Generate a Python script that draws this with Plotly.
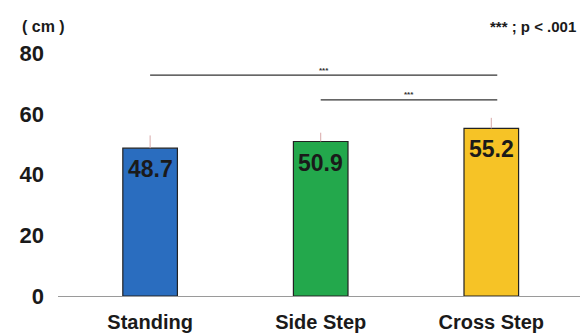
import plotly.graph_objects as go

categories = ["Standing", "Side Step", "Cross Step"]
means = [48.7, 50.9, 55.2]
sds = [4.2, 2.9, 3.5]
colors = ["#2a6dbf", "#23a84c", "#f6c326"]

# significance brackets: (from index, to index, height in cm)
comparisons = [(0, 2, 72.8), (1, 2, 64.6)]
sig_label = "***"

x = list(range(len(categories)))
font = "Liberation Sans, Arial, sans-serif"

fig = go.Figure()
fig.add_trace(go.Bar(
    x=x, y=means, width=0.32,
    marker=dict(color=colors, line=dict(color="#222222", width=1.2)),
    error_y=dict(type="data", array=sds, arrayminus=[0] * len(sds), symmetric=False,
                 color="#d8a9a9", thickness=1, width=0),
    showlegend=False,
))

annotations = []
for xi, m in zip(x, means):
    annotations.append(dict(x=xi, y=m, yshift=-21, text=f"<b>{m:.1f}</b>", showarrow=False,
                            font=dict(family=font, size=23, color="#1a1a1a")))

shapes = []
for a, b, h in comparisons:
    shapes.append(dict(type="line", x0=a, x1=b + 0.035, y0=h, y1=h,
                       line=dict(color="#333333", width=1.3)))
    annotations.append(dict(x=(a + b + 0.035) / 2, y=h, yshift=5, text=f"<b>{sig_label}</b>",
                            showarrow=False, font=dict(family=font, size=8, color="#333333")))

annotations.append(dict(xref="paper", yref="paper", x=-0.073, y=1.043, xanchor="left",
                        yanchor="middle", text="<b>( cm )</b>", showarrow=False,
                        font=dict(family=font, size=16, color="#1a1a1a")))
annotations.append(dict(xref="paper", yref="paper", x=0.997, y=1.046, xanchor="right",
                        yanchor="middle", text="<b>*** ; p < .001</b>", showarrow=False,
                        font=dict(family=font, size=15, color="#1a1a1a")))

fig.update_layout(
    width=580, height=333,
    margin=dict(l=58, r=0, t=38, b=36.5),
    paper_bgcolor="white", plot_bgcolor="white",
    shapes=shapes, annotations=annotations,
    xaxis=dict(range=[-0.54, 2.52], tickvals=x, ticktext=[f"<b>{c}</b>" for c in categories],
               showgrid=False, zeroline=False, showline=True, linecolor="#9a9a9a", linewidth=1,
               ticks="", ticklabelstandoff=8,
               tickfont=dict(family=font, size=20, color="#1a1a1a")),
    yaxis=dict(range=[0, 85], tickvals=[0, 20, 40, 60, 80],
               ticktext=["<b>0</b>", "<b>20</b>", "<b>40</b>", "<b>60</b>", "<b>80</b>"],
               showgrid=False, zeroline=False, showline=False, ticks="",
               ticklabelstandoff=13, tickfont=dict(family=font, size=22, color="#1a1a1a")),
)

fig.write_html("out.html")
